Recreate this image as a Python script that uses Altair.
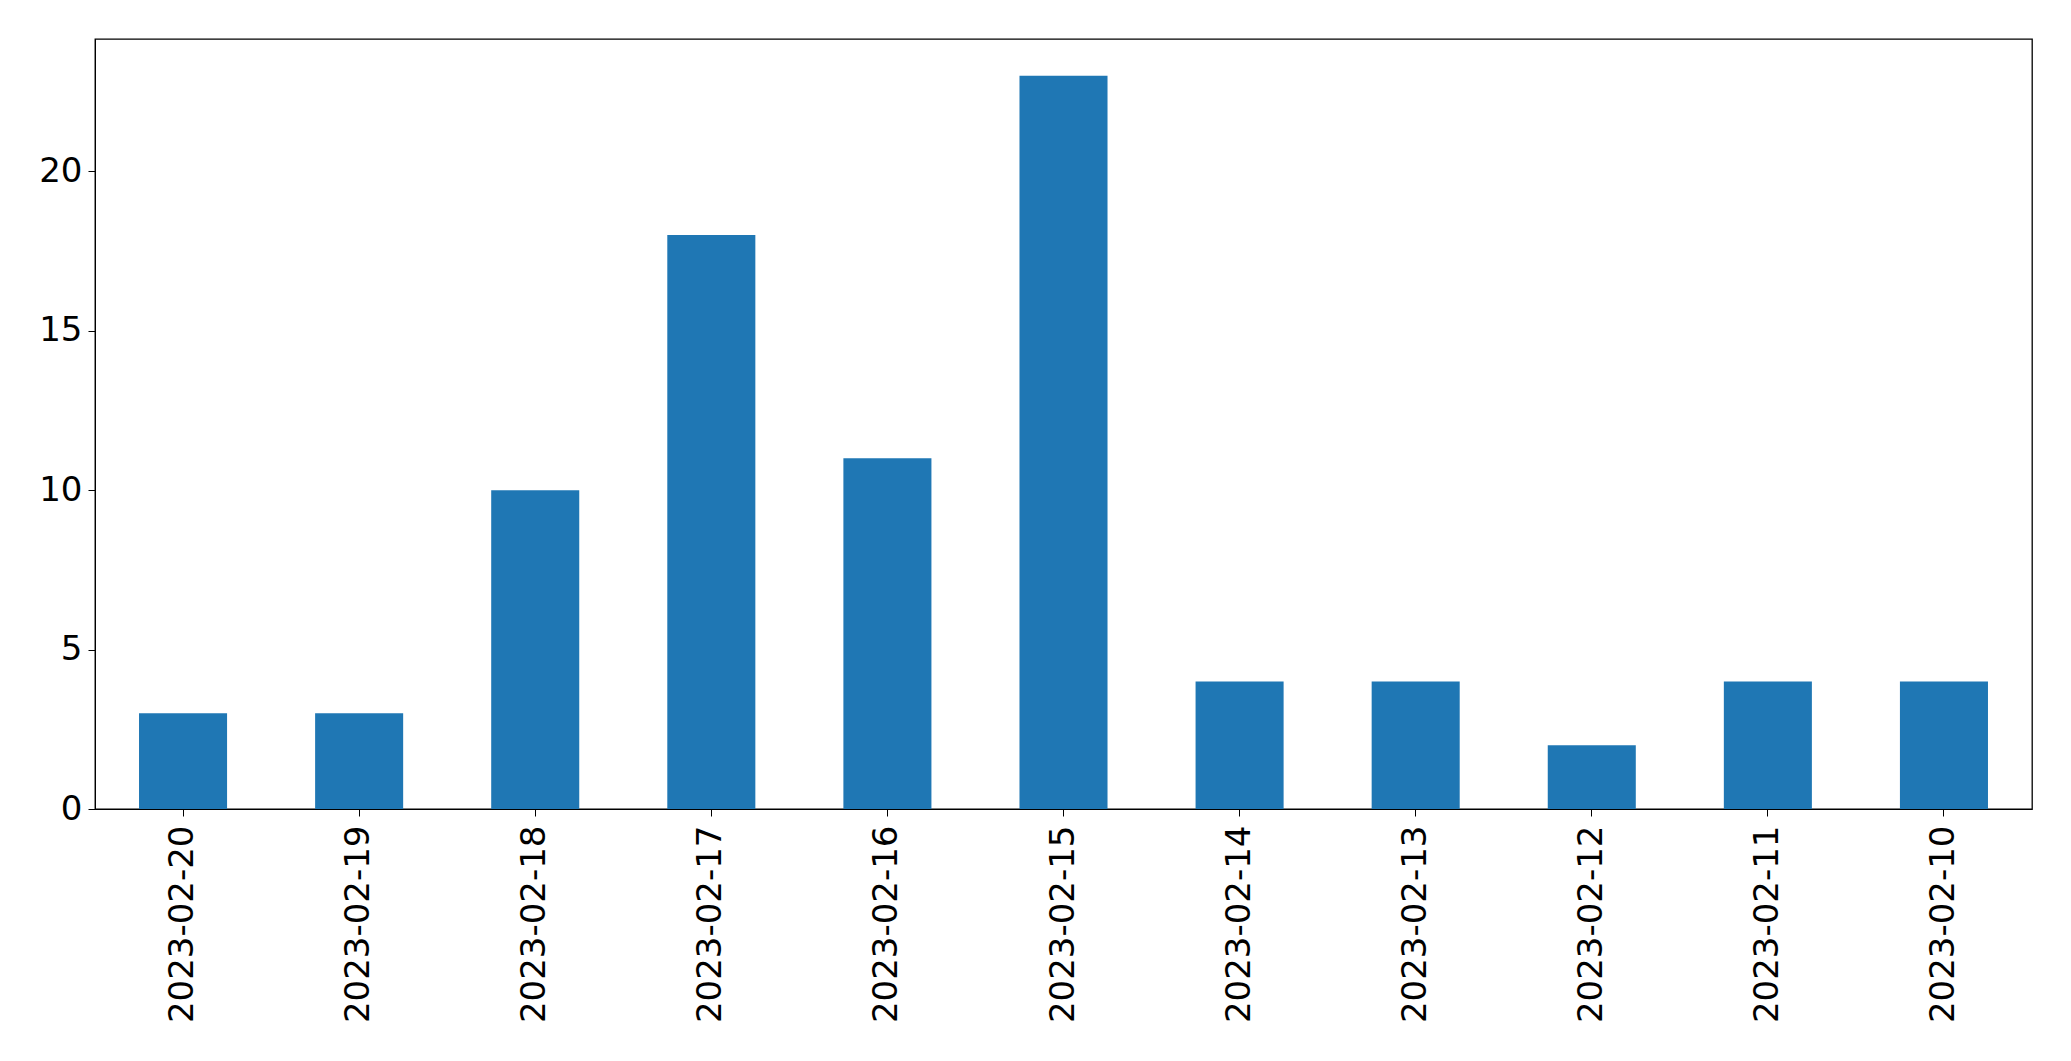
import altair as alt
import pandas as pd

dates = ["2023-02-20", "2023-02-19", "2023-02-18", "2023-02-17", "2023-02-16",
         "2023-02-15", "2023-02-14", "2023-02-13", "2023-02-12", "2023-02-11", "2023-02-10"]
counts = [3, 3, 10, 18, 11, 23, 4, 4, 2, 4, 4]
y_ticks = [0, 5, 10, 15, 20]

df = pd.DataFrame({"date": dates, "count": counts})

chart = alt.Chart(df).mark_bar(color="#1f77b4").encode(
    x=alt.X("date:N", sort=dates, title=None,
            scale=alt.Scale(paddingInner=0.5, paddingOuter=0.25),
            axis=alt.Axis(labelAngle=270, labelFontSize=34, labelFont="DejaVu Sans",
                          labelColor="black", tickColor="black", domainColor="black",
                          tickSize=7, labelPadding=9, grid=False, labelAlign="right",
                          labelBaseline="middle", labelLimit=0)),
    y=alt.Y("count:Q", title=None,
            scale=alt.Scale(domain=[0, 24.15], nice=False, zero=True),
            axis=alt.Axis(values=y_ticks, labelFontSize=34, labelFont="DejaVu Sans",
                          labelColor="black", tickColor="black", domainColor="black",
                          tickSize=7, labelPadding=6, grid=False)),
).properties(
    width=1937, height=770,
    background="white",
    autosize=alt.AutoSizeParams(type="none"),
    padding={"left": 87, "top": 31, "right": 30, "bottom": 240},
).configure_view(stroke="black", strokeWidth=1.3)

chart.save("out.html", embed_options={"renderer": "svg", "actions": False})
